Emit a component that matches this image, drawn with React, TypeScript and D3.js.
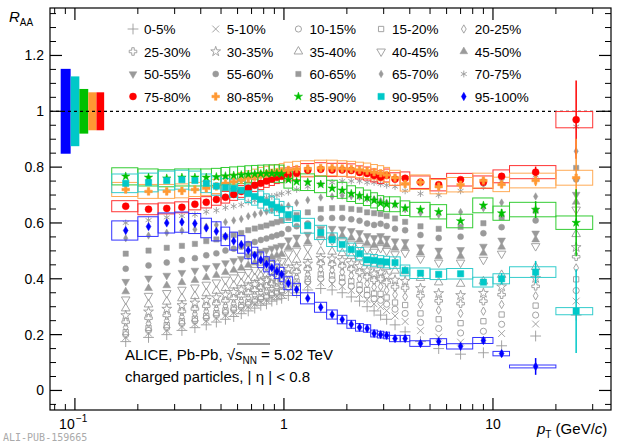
import React from 'react';
import * as d3 from 'd3';

// pT bin centres and edges (GeV/c)
const pt = [0.175, 0.225, 0.275, 0.325, 0.375, 0.425, 0.475, 0.525, 0.575, 0.625, 0.675, 0.725, 0.775, 0.825, 0.875, 0.925, 0.975,
  1.05, 1.15, 1.3, 1.5, 1.7, 1.9, 2.1, 2.3, 2.5, 2.7, 2.9, 3.1, 3.4, 3.8, 4.5, 5.5, 7, 9, 11, 16, 25];
const edges = [0.15, 0.2, 0.25, 0.3, 0.35, 0.4, 0.45, 0.5, 0.55, 0.6, 0.65, 0.7, 0.75, 0.8, 0.85, 0.9, 0.95, 1.0,
  1.1, 1.2, 1.4, 1.6, 1.8, 2.0, 2.2, 2.4, 2.6, 2.8, 3.0, 3.2, 3.6, 4.0, 5, 6, 8, 10, 12, 20, 30];

const labels = ['0-5%', '5-10%', '10-15%', '15-20%', '20-25%', '25-30%', '30-35%', '35-40%', '40-45%', '45-50%',
  '50-55%', '55-60%', '60-65%', '65-70%', '70-75%', '75-80%', '80-85%', '85-90%', '90-95%', '95-100%'];

const r0_5 = [.175,.19,.20,.215,.225,.235,.245,.255,.265,.275,.285,.295,.305,.31,.32,.325,.33,.34,.35,.36,.365,.36,.35,.335,.32,.30,.285,.27,.255,.235,.21,.175,.15,.13,.135,.16,.195,.27];
const r5_10 = [.19,.205,.215,.229,.239,.249,.259,.269,.279,.289,.299,.309,.318,.323,.333,.338,.343,.357,.367,.377,.386,.381,.372,.358,.344,.325,.310,.300,.286,.267,.247,.214,.191,.173,.179,.204,.238,.320];
const r10_15 = [.20,.215,.225,.240,.249,.259,.269,.279,.289,.298,.308,.318,.328,.333,.343,.348,.353,.369,.379,.389,.401,.397,.388,.374,.361,.342,.329,.323,.309,.291,.276,.244,.222,.206,.212,.237,.270,.358];
const r15_20 = [.209,.224,.234,.248,.257,.267,.277,.287,.297,.306,.316,.326,.335,.340,.350,.355,.360,.380,.390,.400,.416,.412,.404,.391,.378,.360,.347,.346,.333,.315,.306,.276,.255,.241,.248,.272,.304,.398];
const r20_25 = [.226,.24,.25,.264,.274,.284,.293,.303,.312,.322,.332,.341,.351,.356,.365,.370,.375,.396,.406,.416,.434,.431,.424,.412,.400,.382,.370,.372,.359,.343,.336,.308,.288,.276,.284,.308,.339,.439];
const r25_30 = [.245,.259,.269,.283,.292,.302,.311,.321,.330,.339,.349,.359,.368,.373,.382,.387,.392,.415,.425,.435,.455,.452,.446,.435,.423,.407,.395,.399,.387,.371,.367,.339,.321,.311,.320,.343,.373,.479];
const r30_35 = [.269,.282,.292,.305,.314,.324,.333,.343,.352,.361,.371,.380,.389,.394,.403,.408,.413,.434,.444,.454,.474,.472,.466,.455,.445,.429,.418,.423,.411,.396,.392,.366,.348,.341,.349,.372,.402,.513];
const r35_40 = [.294,.308,.318,.330,.338,.348,.357,.367,.376,.384,.394,.403,.411,.416,.425,.430,.435,.458,.468,.478,.498,.497,.492,.482,.473,.458,.448,.455,.443,.429,.427,.403,.387,.382,.391,.414,.442,.560];
const r40_45 = [.326,.339,.349,.361,.369,.379,.387,.397,.405,.414,.424,.432,.440,.445,.453,.458,.463,.491,.501,.511,.538,.537,.534,.526,.518,.505,.497,.510,.500,.488,.493,.472,.458,.458,.468,.490,.517,.648];
const r45_50 = [.354,.366,.376,.387,.395,.405,.413,.423,.431,.439,.449,.457,.465,.470,.478,.483,.488,.512,.522,.532,.556,.556,.554,.547,.539,.527,.520,.531,.521,.510,.513,.493,.480,.481,.492,.514,.540,.675];
const r50_55 = [.39,.402,.412,.422,.430,.440,.447,.457,.465,.472,.482,.489,.497,.502,.509,.514,.519,.539,.549,.559,.579,.580,.578,.572,.565,.554,.547,.554,.545,.535,.533,.514,.502,.504,.516,.538,.563,.702];
const r55_60 = [.436,.448,.458,.467,.474,.484,.491,.501,.508,.515,.525,.532,.539,.544,.551,.556,.561,.578,.588,.598,.616,.618,.618,.613,.608,.598,.593,.597,.589,.579,.574,.557,.546,.551,.563,.585,.609,.756];
const r60_65 = [.49,.501,.511,.518,.525,.535,.541,.551,.557,.564,.574,.580,.586,.591,.598,.603,.608,.618,.628,.638,.650,.653,.654,.650,.647,.638,.635,.632,.625,.616,.604,.588,.579,.586,.599,.620,.644,.797];
const r65_70 = [.545,.555,.565,.572,.577,.587,.593,.603,.609,.614,.624,.630,.636,.641,.646,.651,.656,.662,.672,.682,.691,.695,.698,.696,.694,.687,.685,.679,.673,.666,.649,.636,.629,.639,.653,.673,.695,.857];
const r70_75 = [.60,.61,.62,.625,.63,.64,.645,.655,.66,.665,.675,.68,.685,.69,.695,.70,.705,.71,.72,.73,.74,.745,.75,.75,.75,.745,.745,.74,.735,.73,.715,.705,.70,.715,.73,.75,.77,.945];
const r75_80 = [.66,.649,.652,.656,.667,.674,.684,.692,.702,.713,.724,.735,.742,.75,.757,.764,.767,.774,.778,.789,.792,.79,.79,.788,.781,.777,.77,.764,.77,.757,.76,.746,.737,.755,.746,.767,.782,.97];
const r80_85 = [.72,.713,.713,.715,.72,.724,.731,.742,.748,.754,.76,.766,.772,.776,.78,.782,.785,.79,.793,.795,.797,.797,.795,.793,.79,.787,.782,.778,.772,.762,.74,.746,.73,.737,.752,.738,.752,.762];
const r85_90 = [.767,.763,.76,.763,.763,.763,.765,.768,.77,.772,.774,.775,.776,.777,.777,.777,.776,.755,.748,.746,.738,.724,.717,.705,.698,.69,.681,.671,.667,.667,.653,.648,.64,.607,.663,.635,.648,.601];
const r90_95 = [.742,.745,.752,.755,.752,.742,.732,.727,.724,.717,.705,.695,.684,.674,.666,.656,.648,.63,.616,.59,.566,.54,.523,.505,.49,.468,.466,.462,.46,.458,.43,.42,.416,.418,.388,.40,.424,.284];
const r95_100 = [.573,.587,.60,.603,.598,.582,.57,.552,.535,.523,.502,.484,.468,.452,.44,.427,.416,.384,.362,.33,.298,.272,.254,.237,.226,.222,.204,.20,.197,.186,.186,.168,.175,.158,.179,.132,.086,null];

const series = [r0_5, r5_10, r10_15, r15_20, r20_25, r25_30, r30_35, r35_40, r40_45, r45_50,
  r50_55, r55_60, r60_65, r65_70, r70_75, r75_80, r80_85, r85_90, r90_95, r95_100];

// systematic uncertainty (relative) and statistical errors of the last bins for peripheral classes
const sysRel = [0.03, 0.035, 0.04, 0.045, 0.06];
const statLast = [
  [0.01, 0.02, 0.14],
  [0.01, 0.02, 0.14],
  [0.015, 0.03, 0.12],
  [0.02, 0.04, 0.15],
  [0.012, 0.03, 0],
];
// normalisation uncertainty boxes at R_AA = 1 (95-100 ... 75-80)
const normUnc = [0.152, 0.125, 0.08, 0.068, 0.068];
const normEdges = [0.0855, 0.0954, 0.105, 0.1158, 0.1268, 0.138];

const yTicks = [0, 0.2, 0.4, 0.6, 0.8, 1, 1.2];

const GREY = '#9a9a9a';
const colCol = ['#ff0000', '#ff9933', '#00c000', '#00c8c8', '#0000ff'];
const boxCol = ['#ff3333', '#ffaa55', '#33cc33', '#33cccc', '#3333ff'];

type Mk = { type: d3.SymbolType; fill: boolean; size: number; rot?: number };
const markers: Mk[] = [
  { type: d3.symbolPlus, fill: false, size: 40 },
  { type: d3.symbolTimes, fill: false, size: 32 },
  { type: d3.symbolCircle, fill: false, size: 30 },
  { type: d3.symbolSquare, fill: false, size: 28 },
  { type: d3.symbolDiamond, fill: false, size: 20 },
  { type: d3.symbolCross, fill: false, size: 32 },
  { type: d3.symbolStar, fill: false, size: 30 },
  { type: d3.symbolTriangle, fill: false, size: 32 },
  { type: d3.symbolTriangle, fill: false, size: 32, rot: 180 },
  { type: d3.symbolTriangle, fill: true, size: 26 },
  { type: d3.symbolTriangle, fill: true, size: 26, rot: 180 },
  { type: d3.symbolCircle, fill: true, size: 28 },
  { type: d3.symbolSquare, fill: true, size: 28 },
  { type: d3.symbolDiamond, fill: true, size: 16 },
  { type: d3.symbolAsterisk, fill: false, size: 32 },
  { type: d3.symbolCircle, fill: true, size: 38 },
  { type: d3.symbolCross, fill: true, size: 32 },
  { type: d3.symbolStar, fill: true, size: 22 },
  { type: d3.symbolSquare, fill: true, size: 40 },
  { type: d3.symbolDiamond, fill: true, size: 20 },
];

const colorOf = (k: number) => (k < 15 ? GREY : colCol[k - 15]);

const Marker = ({ k, x, y }: { k: number; x: number; y: number }) => {
  const m = markers[k];
  const d = d3.symbol().type(m.type).size(m.size)() || '';
  const c = colorOf(k);
  return (
    <path d={d} transform={`translate(${x},${y}) rotate(${m.rot || 0})`}
      fill={m.fill ? c : 'none'} stroke={c} strokeWidth={m.fill ? 0.5 : 0.9} />
  );
};

export default function App() {
  const L = 50, R = 611, T = 8, B = 410;
  const x = d3.scaleLog().domain([0.076, 36.7]).range([L, R]);
  const y = d3.scaleLinear().domain([-0.07, 1.37]).range([B, T]);

  const minorY = d3.range(-0.05, 1.36, 0.05).filter(v => Math.abs(Math.round(v * 5) - v * 5) > 0.01);
  const majorX = [0.1, 1, 10];
  const minorX = [0.08, 0.09, 0.2, 0.3, 0.4, 0.5, 0.6, 0.7, 0.8, 0.9, 2, 3, 4, 5, 6, 7, 8, 9, 20, 30];
  const font = 'Liberation Sans, Arial, Helvetica, sans-serif';

  return (
    <svg width={620} height={445} style={{ position: 'absolute', left: 0, top: 0, background: '#fff' }} fontFamily={font}>
      <rect width={620} height={445} fill="#fff" />
      {/* normalisation boxes */}
      {normUnc.map((u, i) => (
        <rect key={'n' + i} x={x(normEdges[i])} width={x(normEdges[i + 1]) - x(normEdges[i])}
          y={y(1 + u)} height={y(1 - u) - y(1 + u)} fill={colCol[4 - i]} />
      ))}
      <line x1={L} x2={R} y1={y(1)} y2={y(1)} stroke="#000" strokeWidth={1.3} strokeDasharray="3,3" />

      {/* grey classes */}
      {series.slice(0, 15).map((s, k) => s.map((v, i) => v == null ? null :
        <Marker key={`g${k}-${i}`} k={k} x={x(pt[i])} y={y(v)} />))}

      {/* peripheral classes: boxes, errors, markers */}
      {series.slice(15).map((s, j) => (
        <g key={'c' + j}>
          {s.map((v, i) => v == null ? null : (
            <rect key={i} x={x(edges[i])} width={x(edges[i + 1]) - x(edges[i])}
              y={y(v * (1 + sysRel[j]))} height={y(v * (1 - sysRel[j])) - y(v * (1 + sysRel[j]))}
              fill="none" stroke={boxCol[j]} strokeWidth={1} />
          ))}
          {statLast[j].map((e, n) => {
            const i = pt.length - 3 + n;
            const v = s[i];
            if (v == null || e === 0) return null;
            return <line key={'e' + n} x1={x(pt[i])} x2={x(pt[i])} y1={y(v + e)} y2={y(v - e)}
              stroke={colCol[j]} strokeWidth={1.5} />;
          })}
        </g>
      ))}
      {series.slice(15).map((s, j) => s.map((v, i) => v == null ? null :
        <Marker key={`c${j}-${i}`} k={15 + j} x={x(pt[i])} y={y(v)} />))}

      {/* frame and ticks */}
      <rect x={L} y={T} width={R - L} height={B - T} fill="none" stroke="#000" strokeWidth={1.2} />
      {yTicks.map(v => (
        <g key={'yt' + v}>
          <line x1={L} x2={L + 12} y1={y(v)} y2={y(v)} stroke="#000" strokeWidth={1.2} />
          <line x1={R} x2={R - 12} y1={y(v)} y2={y(v)} stroke="#000" strokeWidth={1.2} />
          <text x={L - 6} y={y(v) + 5} textAnchor="end" fontSize={14}>{v}</text>
        </g>
      ))}
      {minorY.map(v => (
        <g key={'ym' + v}>
          <line x1={L} x2={L + 6} y1={y(v)} y2={y(v)} stroke="#000" />
          <line x1={R} x2={R - 6} y1={y(v)} y2={y(v)} stroke="#000" />
        </g>
      ))}
      {majorX.map(v => (
        <g key={'xt' + v}>
          <line x1={x(v)} x2={x(v)} y1={B} y2={B - 12} stroke="#000" strokeWidth={1.2} />
          <line x1={x(v)} x2={x(v)} y1={T} y2={T + 12} stroke="#000" strokeWidth={1.2} />
        </g>
      ))}
      {minorX.map(v => (
        <g key={'xm' + v}>
          <line x1={x(v)} x2={x(v)} y1={B} y2={B - 6} stroke="#000" />
          <line x1={x(v)} x2={x(v)} y1={T} y2={T + 6} stroke="#000" />
        </g>
      ))}
      <text x={x(0.1) - 8} y={429} textAnchor="middle" fontSize={14}>10</text>
      <text x={x(0.1) + 1} y={422} fontSize={10}>−1</text>
      <text x={x(1)} y={429} textAnchor="middle" fontSize={14}>1</text>
      <text x={x(10)} y={429} textAnchor="middle" fontSize={14}>10</text>

      {/* axis titles */}
      <text x={537} y={434} fontSize={15}><tspan fontStyle="italic">p</tspan><tspan fontSize={10} dy={4}>T</tspan><tspan dy={-4}> (GeV/</tspan><tspan fontStyle="italic">c</tspan>)</text>
      <text x={9} y={22} fontSize={15}><tspan fontStyle="italic">R</tspan><tspan fontSize={10} dy={4}>AA</tspan></text>

      {/* legend */}
      {labels.map((lab, k) => {
        const cx = 133 + (k % 5) * 82.7;
        const cy = 29 + Math.floor(k / 5) * 22.5;
        return (
          <g key={'l' + k}>
            <Marker k={k} x={cx} y={cy} />
            <text x={cx + 11} y={cy + 5} fontSize={13.5}>{lab}</text>
          </g>
        );
      })}

      {/* annotation */}
      <text x={125} y={360} fontSize={15}>ALICE, Pb-Pb, √<tspan fontStyle="italic">s</tspan><tspan fontSize={10} dy={4}>NN</tspan><tspan dy={-4}> = 5.02 TeV</tspan></text>
      <line x1={237} x2={270} y1={344} y2={344} stroke="#000" strokeWidth={0.8} />
      <text x={125} y={382} fontSize={15}>charged particles, | η | &lt; 0.8</text>

      <text x={3} y={441} fontSize={10} fill="#aaa" fontFamily="DejaVu Sans Mono, monospace">ALI-PUB-159665</text>
    </svg>
  );
}
